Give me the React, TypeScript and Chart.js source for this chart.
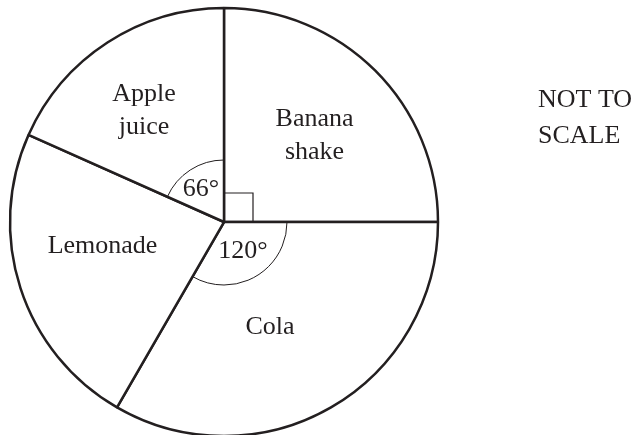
import React, { useEffect, useRef } from 'react';
import { Chart, registerables } from 'chart.js';

Chart.register(...registerables);

// Sector angles in degrees, clockwise from 12 o'clock
const drinks = ['Banana shake', 'Cola', 'Lemonade', 'Apple juice'];
const angles = [90, 120, 84, 66];
// Sectors whose angle is marked at the centre
const markedAngles = [true, true, false, true];
const noteLines = ['NOT TO', 'SCALE'];

// Layout: where each sector name sits (direction clockwise from 12 o'clock, share of radius)
const nameLines = [['Banana', 'shake'], ['Cola'], ['Lemonade'], ['Apple', 'juice']];
const nameDirections = [45.8, 155.9, 259.7, 324.7];
const nameDistances = [0.59, 0.527, 0.577, 0.647];
// Layout: angle marker radius and where the degree text sits (direction, px from centre)
const markRadii = [29, 63, 0, 62];
const degreeDirections = [0, 145.4, 0, 326.3];
const degreeDistances = [0, 33.4, 0, 41.5];

const INK = '#231f20';
const FONT = '26px "Liberation Serif", "Times New Roman", serif';
const CAP = 18;
const LINE_GAP = 33;

const rad = (deg: number) => ((deg - 90) * Math.PI) / 180;

const sectorAnnotations = {
  id: 'sectorAnnotations',
  afterDatasetsDraw(chart: any) {
    const ctx: CanvasRenderingContext2D = chart.ctx;
    const arcs = chart.getDatasetMeta(0).data;
    ctx.save();
    ctx.fillStyle = INK;
    ctx.strokeStyle = INK;
    ctx.font = FONT;
    ctx.textAlign = 'center';
    ctx.textBaseline = 'alphabetic';

    arcs.forEach((arc: any, i: number) => {
      const { x, y, startAngle, endAngle, outerRadius } = arc.getProps(
        ['x', 'y', 'startAngle', 'endAngle', 'outerRadius'],
        true
      );

      // sector name
      const t = rad(nameDirections[i]);
      const d = nameDistances[i] * outerRadius;
      const cx = x + d * Math.cos(t);
      const cy = y + d * Math.sin(t);
      const lines = nameLines[i];
      const blockH = CAP + (lines.length - 1) * LINE_GAP;
      lines.forEach((ln, k) => {
        ctx.fillText(ln, cx, cy - blockH / 2 + CAP + k * LINE_GAP);
      });

      if (!markedAngles[i]) return;
      const r = markRadii[i];
      if (angles[i] === 90) {
        // right-angle box
        const ax = Math.cos(startAngle), ay = Math.sin(startAngle);
        const bx = Math.cos(endAngle), by = Math.sin(endAngle);
        ctx.lineWidth = 1.2;
        ctx.beginPath();
        ctx.moveTo(x + r * ax, y + r * ay);
        ctx.lineTo(x + r * ax + r * bx, y + r * ay + r * by);
        ctx.lineTo(x + r * bx, y + r * by);
        ctx.stroke();
      } else {
        ctx.lineWidth = 1;
        ctx.beginPath();
        ctx.arc(x, y, r, startAngle, endAngle);
        ctx.stroke();
        const dt = rad(degreeDirections[i]);
        const dd = degreeDistances[i];
        ctx.fillText(`${angles[i]}°`, x + dd * Math.cos(dt), y + dd * Math.sin(dt) + CAP / 2);
      }
    });

    // note beside the chart
    ctx.textAlign = 'left';
    noteLines.forEach((ln, k) => ctx.fillText(ln, 538, 107 + k * 36));
    ctx.restore();
  },
};

export default function App() {
  const canvasRef = useRef<HTMLCanvasElement | null>(null);

  useEffect(() => {
    const canvas = canvasRef.current;
    if (!canvas) return;
    const chart = new Chart(canvas, {
      type: 'pie',
      data: {
        labels: drinks,
        datasets: [
          {
            data: angles,
            backgroundColor: '#ffffff',
            borderColor: INK,
            borderWidth: 2.5,
            hoverOffset: 0,
          },
        ],
      },
      options: {
        responsive: false,
        animation: false,
        events: [],
        radius: 214,
        rotation: 0,
        layout: { padding: { left: 0, right: 191, top: 9, bottom: 0 } },
        plugins: {
          legend: { display: false },
          tooltip: { enabled: false },
        },
      } as any,
      plugins: [sectorAnnotations],
    });
    return () => chart.destroy();
  }, []);

  return (
    <div style={{ position: 'fixed', left: 0, top: 0, width: 639, height: 435, background: '#fff' }}>
      <canvas ref={canvasRef} width={639} height={435} style={{ display: 'block' }} />
    </div>
  );
}
